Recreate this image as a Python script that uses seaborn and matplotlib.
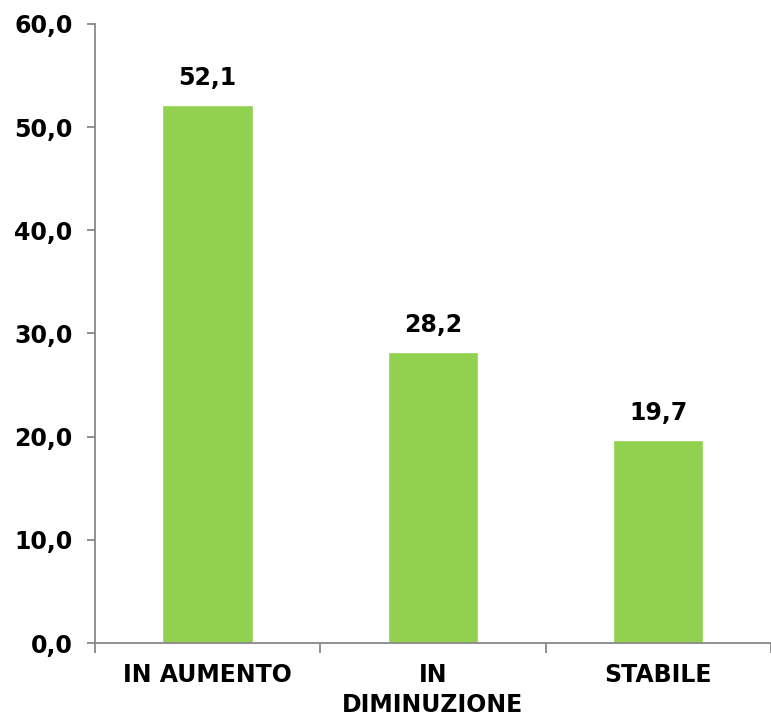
import matplotlib
matplotlib.use('Agg')
import matplotlib.pyplot as plt
import seaborn as sns

categories = ['IN AUMENTO', 'IN\nDIMINUZIONE', 'STABILE']
values = [52.1, 28.2, 19.7]
y_ticks = [0, 10, 20, 30, 40, 50, 60]

sns.set_style('ticks')
plt.rcParams['font.family'] = ['DejaVu Sans']
plt.rcParams['text.color'] = 'black'

fig = plt.figure(figsize=(7.71, 7.21), dpi=100)
ax = fig.add_axes([0.123, 0.108, 0.877, 0.859])

sns.barplot(x=categories, y=values, color='#92D050', width=0.4, saturation=1, ax=ax)

ax.set_xlim(-0.5, 2.5)
ax.set_ylim(0, 60)
ax.set_yticks(y_ticks)
ax.set_yticklabels([f'{v:.1f}'.replace('.', ',') for v in y_ticks],
                   fontsize=17, fontweight='bold', color='black')
ax.set_xticks(range(len(categories)))
ax.set_xticklabels(categories, fontsize=17, fontweight='bold', color='black',
                   linespacing=1.35)
ax.tick_params(axis='x', which='major', length=0, pad=14)
ax.set_xticks([-0.5, 0.5, 1.5, 2.5], minor=True)
ax.tick_params(axis='x', which='minor', bottom=True, length=7, width=1.3,
               color='#888888', direction='out')
ax.tick_params(axis='y', left=True, length=6, width=1.3, color='#888888',
               direction='out', pad=10)

for s in ['top', 'right']:
    ax.spines[s].set_visible(False)
for s in ['left', 'bottom']:
    ax.spines[s].set_color('#888888')
    ax.spines[s].set_linewidth(1.3)

# value labels over the bars
for i, v in enumerate(values):
    ax.annotate(f'{v:.1f}'.replace('.', ','), (i, v), xytext=(0, 11),
                textcoords='offset points', ha='center', va='bottom',
                fontsize=17, fontweight='bold', color='black')

ax.set_xlabel('')
ax.set_ylabel('')
fig.savefig('out.png', dpi=100)
